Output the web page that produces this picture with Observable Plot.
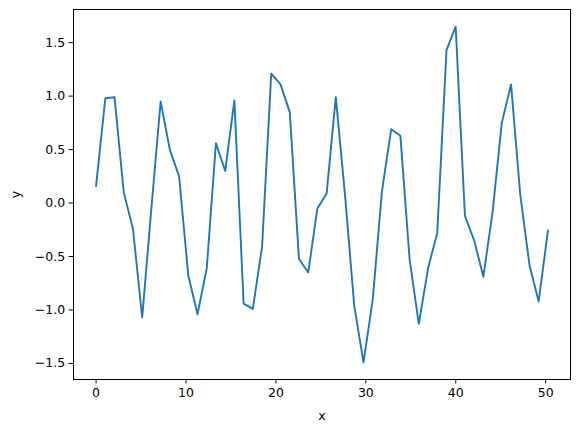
<!DOCTYPE html>
<html>
<head>
<meta charset="utf-8">
<script src="https://cdn.jsdelivr.net/npm/d3@7"></script>
<script src="https://cdn.jsdelivr.net/npm/@observablehq/plot@0.6"></script>
<style>
  html, body { margin: 0; padding: 0; background: #fff; }
  svg { display: block; }
</style>
</head>
<body>
<div id="chart"></div>
<script>
const xValues = [0, 1.03, 2.05, 3.08, 4.10, 5.13, 6.15, 7.18, 8.20, 9.23,
  10.26, 11.28, 12.31, 13.33, 14.36, 15.38, 16.41, 17.43, 18.46, 19.48,
  20.51, 21.54, 22.56, 23.59, 24.61, 25.64, 26.66, 27.69, 28.71, 29.74,
  30.77, 31.79, 32.82, 33.84, 34.87, 35.89, 36.92, 37.94, 38.97, 39.99,
  41.02, 42.05, 43.07, 44.10, 45.12, 46.15, 47.17, 48.20, 49.22, 50.25];
const yValues = [0.16, 0.98, 0.99, 0.10, -0.24, -1.07, -0.05, 0.95, 0.50, 0.25,
  -0.68, -1.04, -0.61, 0.56, 0.30, 0.96, -0.94, -0.99, -0.41, 1.21,
  1.11, 0.85, -0.52, -0.65, -0.05, 0.09, 0.99, 0.07, -0.96, -1.49,
  -0.90, 0.11, 0.69, 0.63, -0.53, -1.13, -0.61, -0.28, 1.43, 1.65,
  -0.12, -0.35, -0.69, -0.08, 0.75, 1.11, 0.08, -0.58, -0.92, -0.26];
const xTicks = [0, 10, 20, 30, 40, 50];
const yTicks = [-1.5, -1.0, -0.5, 0.0, 0.5, 1.0, 1.5];

const data = xValues.map((x, i) => ({x, y: yValues[i]}));

const chart = Plot.plot({
  width: 578,
  height: 432,
  marginLeft: 73,
  marginRight: 8,
  marginTop: 9,
  marginBottom: 53,
  style: {fontFamily: "DejaVu Sans", fontSize: "12.5px", color: "#000", background: "#fff"},
  x: {domain: [-2.51, 52.76]},
  y: {domain: [-1.65, 1.81]},
  marks: [
    Plot.line(data, {x: "x", y: "y", stroke: "#1f77b4", strokeWidth: 1.9, strokeLinejoin: "round", strokeLinecap: "square"}),
    Plot.axisX({ticks: xTicks, tickSize: 4.4, tickPadding: 4, tickFormat: d3.format("d"),
      label: "x", labelAnchor: "center", labelArrow: "none", labelOffset: 40,
      stroke: "#000", strokeWidth: 1, fill: "#000", fontSize: 12.5}),
    Plot.axisY({ticks: yTicks, tickSize: 4.4, tickPadding: 4, tickFormat: d3.format(".1f"),
      label: "y", labelAnchor: "center", labelArrow: "none", labelOffset: 62,
      stroke: "#000", strokeWidth: 1, fill: "#000", fontSize: 12.5}),
    Plot.frame({stroke: "#000", strokeWidth: 1})
  ]
});
document.getElementById("chart").appendChild(chart);
</script>
</body>
</html>
